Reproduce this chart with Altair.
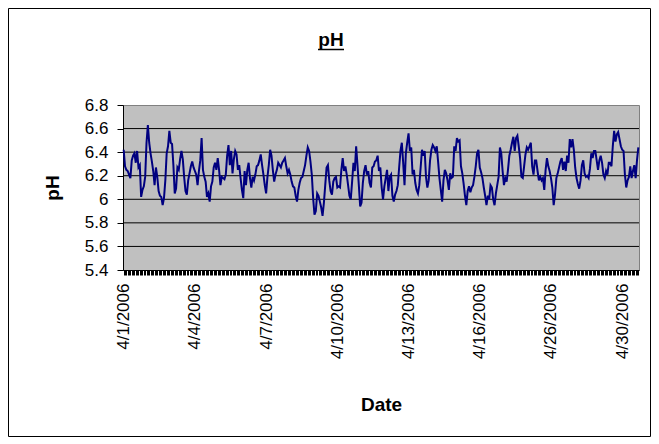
import altair as alt
import pandas as pd

# pH readings, in order
ph_values = [
    6.42, 6.28, 6.25, 6.24, 6.21, 6.18, 6.33, 6.37, 6.39, 6.31,
    6.41, 6.27, 6.29, 6.02, 6.08, 6.11, 6.19, 6.48, 6.63, 6.48,
    6.39, 6.32, 6.24, 6.12, 6.27, 6.19, 6.07, 6.03, 6.02, 5.95,
    6.01, 6.16, 6.39, 6.45, 6.58, 6.48, 6.47, 6.29, 6.05, 6.09,
    6.27, 6.25, 6.34, 6.41, 6.34, 6.19, 6.07, 6.04, 6.16, 6.22,
    6.28, 6.32, 6.27, 6.24, 6.21, 6.12, 6.24, 6.33, 6.52, 6.25,
    6.19, 6.15, 6.02, 6.05, 5.98, 6.11, 6.15, 6.27, 6.31, 6.25,
    6.35, 6.25, 6.12, 6.19, 6.18,
    6.17, 6.21, 6.37, 6.46, 6.29, 6.41, 6.22, 6.34, 6.41, 6.38,
    6.25, 6.29, 6.18, 6.08, 6.01, 6.24, 6.12, 6.25, 6.31, 6.18,
    6.10, 6.19, 6.16, 6.21, 6.28, 6.29, 6.33, 6.38, 6.29, 6.21,
    6.12, 6.05, 6.19, 6.29, 6.42, 6.37, 6.25, 6.15, 6.21, 6.25,
    6.31, 6.29, 6.27, 6.31, 6.33, 6.35, 6.28, 6.22, 6.25, 6.21,
    6.15, 6.11, 6.10, 6.03, 5.98, 6.08, 6.14, 6.18, 6.19, 6.24,
    6.29, 6.37, 6.44, 6.41, 6.32, 6.21, 6.01, 5.87, 5.90, 6.05,
    6.03, 5.98, 5.93, 5.86, 5.97, 6.12, 6.27, 6.29,
    6.16, 6.07, 6.04, 6.15, 6.18, 6.19, 6.10, 6.11, 6.10, 6.25,
    6.35, 6.24, 6.28, 6.21, 6.12, 6.03, 6.00, 6.15, 6.31, 6.24,
    6.45, 6.29, 6.12, 5.94, 5.97, 6.14, 6.24, 6.29, 6.21, 6.24,
    6.14, 6.10, 6.27, 6.28, 6.32, 6.33, 6.37, 6.24, 6.27, 6.10,
    6.00, 6.11, 6.18, 6.25, 6.07, 6.19, 6.21, 6.03, 5.98, 6.04,
    6.07, 6.12, 6.27, 6.41, 6.48, 6.31, 6.12, 6.39, 6.48, 6.56,
    6.41, 6.44, 6.21, 6.25, 6.14, 6.08, 6.05, 6.12, 6.27, 6.42,
    6.37, 6.41, 6.19, 6.10, 6.16, 6.33, 6.42,
    6.46, 6.44, 6.41, 6.45, 6.32, 6.18, 6.08, 5.98, 6.16, 6.25,
    6.22, 6.16, 6.08, 6.22, 6.18, 6.19, 6.45, 6.41, 6.52, 6.49,
    6.50, 6.28, 6.22, 6.13, 6.03, 5.95, 6.07, 6.11, 6.06, 6.10,
    6.12, 6.19, 6.28, 6.39, 6.42, 6.27, 6.23, 6.18, 6.10, 6.03,
    5.95, 6.03, 6.00, 6.12, 6.10, 6.00, 5.95, 6.05, 6.12, 6.19,
    6.44, 6.39, 6.24, 6.12, 6.18, 6.15, 6.25, 6.37, 6.42, 6.48,
    6.53, 6.41, 6.52, 6.54, 6.45, 6.35, 6.19, 6.18, 6.28, 6.38,
    6.44, 6.42, 6.45, 6.48, 6.28, 6.21, 6.33,
    6.33, 6.24, 6.16, 6.19, 6.16, 6.18, 6.08, 6.25, 6.35, 6.28,
    6.24, 6.18, 6.10, 5.95, 6.04, 6.18, 6.22, 6.27, 6.32, 6.35,
    6.25, 6.32, 6.24, 6.37, 6.31, 6.51, 6.44, 6.51, 6.42, 6.27,
    6.18, 6.13, 6.09, 6.16, 6.29, 6.33, 6.22, 6.19, 6.20, 6.18,
    6.26, 6.39, 6.35, 6.41, 6.41, 6.33, 6.25, 6.33, 6.37, 6.31,
    6.21, 6.18, 6.24, 6.21, 6.31, 6.31, 6.28, 6.45, 6.58, 6.49,
    6.55, 6.57, 6.51, 6.45, 6.42, 6.41, 6.21, 6.10, 6.16, 6.19,
    6.28, 6.18, 6.24, 6.29, 6.18, 6.33, 6.44,
]

# category positions that carry a date label, and the labels
label_index = [0, 53, 106, 159, 212, 265, 318, 371]
label_text = ["4/1/2006", "4/4/2006", "4/7/2006", "4/10/2006",
              "4/13/2006", "4/16/2006", "4/26/2006", "4/30/2006"]

y_ticks = [5.4, 5.6, 5.8, 6.0, 6.2, 6.4, 6.6, 6.8]
grid_values = [5.6, 5.8, 6.0, 6.2, 6.4, 6.6]

FONT = "Liberation Sans"
W, H = 516, 165

df = pd.DataFrame({"idx": list(range(len(ph_values))), "ph": ph_values})
grid_df = pd.DataFrame({"ph": grid_values})
one = pd.DataFrame({"k": [0]})

label_expr = ""
for i, t in zip(label_index, label_text):
    label_expr += f"datum.value == {i} ? '{t}' : "
label_expr += "''"

yscale = alt.Scale(domain=[5.4, 6.8], nice=False, zero=False)
xscale = alt.Scale(type="point", padding=0.5)
yaxis = alt.Axis(title="pH", values=y_ticks, format="~g", tickSize=6,
                 labelPadding=9, titlePadding=22, grid=False)

border = alt.Chart(one).mark_rect(fillOpacity=0, stroke="black", strokeWidth=1).encode(
    x=alt.value(-114.5), x2=alt.value(W + 11.5),
    y=alt.value(-96.5), y2=alt.value(H + 166.5),
)

grid = alt.Chart(grid_df).mark_rule(color="#000000", strokeWidth=1).encode(
    y=alt.Y("ph:Q", scale=yscale, axis=yaxis, title="pH")
)

line = alt.Chart(df).mark_line(color="#000080", strokeWidth=2).encode(
    x=alt.X("idx:O", scale=xscale,
            axis=alt.Axis(title="Date", labelExpr=label_expr, labelAngle=270,
                          labelOverlap=False, tickSize=5, labelPadding=8,
                          titlePadding=37, grid=False)),
    y=alt.Y("ph:Q", scale=yscale, axis=yaxis, title="pH"),
)

title_txt = alt.Chart(one).mark_text(
    text="pH", font=FONT, fontSize=19, fontWeight="bold",
    align="center", baseline="alphabetic", color="black"
).encode(x=alt.value(208), y=alt.value(-59))

underline = alt.Chart(one).mark_rule(color="black", strokeWidth=1.5).encode(
    x=alt.value(195), x2=alt.value(221), y=alt.value(-55.5)
)

chart = alt.layer(grid, border, line, title_txt, underline).properties(
    width=W, height=H,
    autosize=alt.AutoSizeParams(type="none"),
    padding={"left": 115, "top": 97, "right": 12, "bottom": 167},
    background="white",
).configure_view(
    fill="#C0C0C0", stroke="#808080", strokeWidth=1
).configure_axis(
    domainColor="black", tickColor="black", labelColor="black", titleColor="black",
    labelFont=FONT, labelFontSize=17, titleFont=FONT, titleFontSize=19,
    titleFontWeight="bold",
)

chart.save("out.html", embed_options={"renderer": "svg", "actions": False})
